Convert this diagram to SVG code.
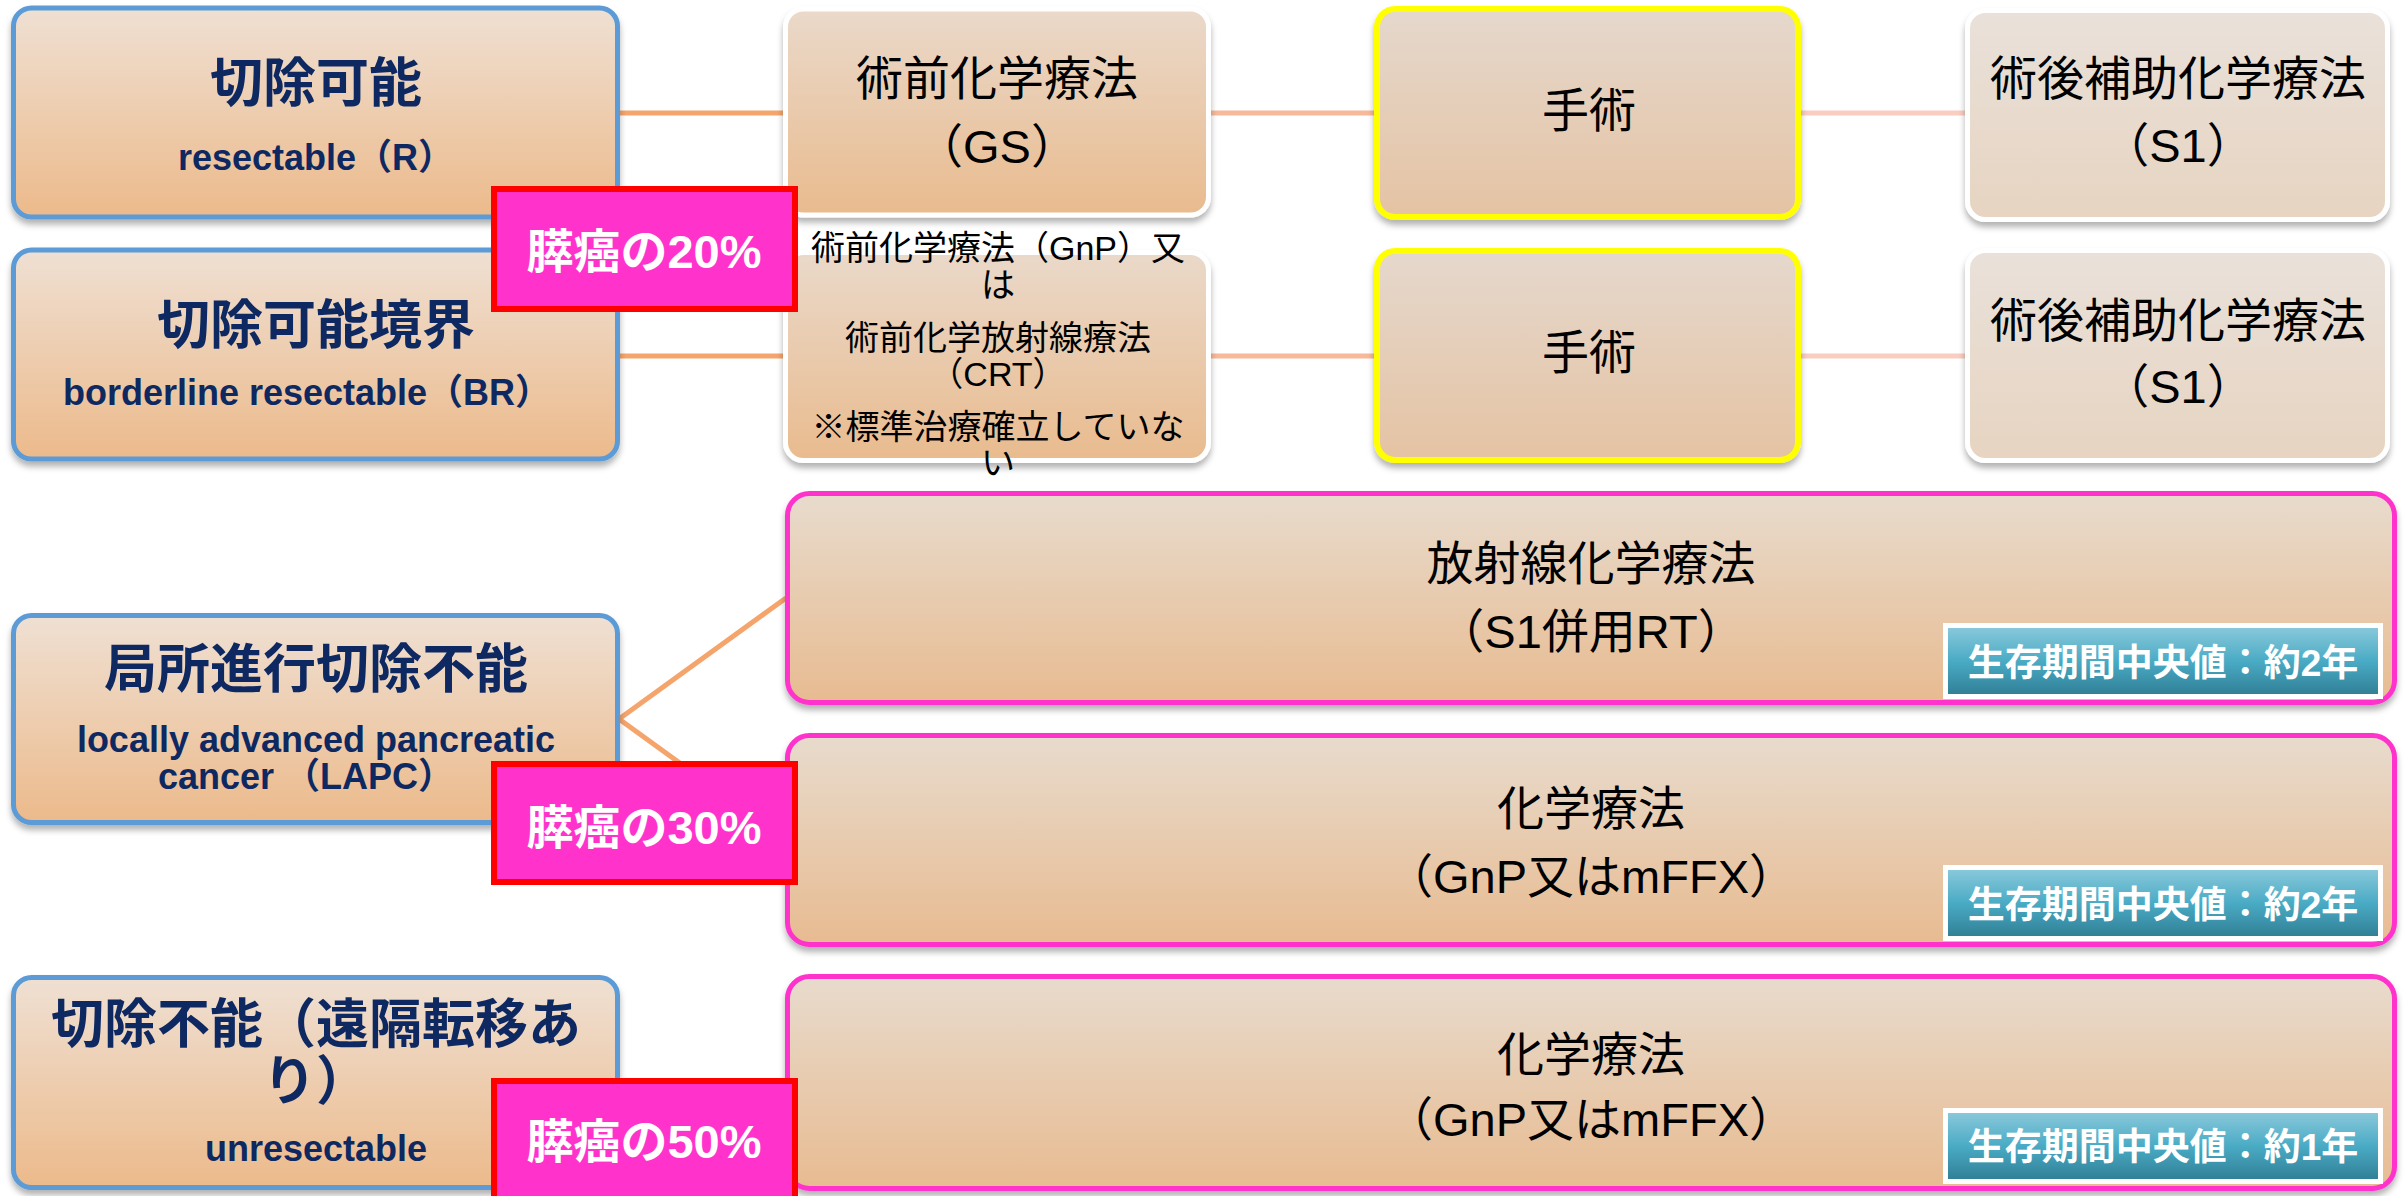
<svg xmlns="http://www.w3.org/2000/svg" width="2407" height="1196" viewBox="0 0 2407 1196">
<defs>
<linearGradient id="gL" x1="0" y1="0" x2="0" y2="1"><stop offset="0" stop-color="#EFE0D3"/><stop offset="1" stop-color="#ECBA8B"/></linearGradient>
<linearGradient id="gGS" x1="0" y1="0" x2="0" y2="1"><stop offset="0" stop-color="#EAD9CA"/><stop offset="1" stop-color="#E9BB8E"/></linearGradient>
<linearGradient id="gOp" x1="0" y1="0" x2="0" y2="1"><stop offset="0" stop-color="#E5D8CD"/><stop offset="1" stop-color="#E5C3A3"/></linearGradient>
<linearGradient id="gPost" x1="0" y1="0" x2="0" y2="1"><stop offset="0" stop-color="#E9E1DA"/><stop offset="1" stop-color="#E7D4C1"/></linearGradient>
<linearGradient id="gBig" x1="0" y1="0" x2="0" y2="1"><stop offset="0" stop-color="#E8DBCD"/><stop offset="1" stop-color="#E8BB91"/></linearGradient>
<linearGradient id="gTeal" x1="0" y1="0" x2="0" y2="1"><stop offset="0" stop-color="#8DCADC"/><stop offset="0.5" stop-color="#4AABC5"/><stop offset="1" stop-color="#2F7D93"/></linearGradient>
<filter id="sh" x="-5%" y="-10%" width="110%" height="130%"><feDropShadow dx="0" dy="5" stdDeviation="3" flood-color="#000" flood-opacity="0.3"/></filter>
</defs>
<style>
.bl{fill:url(#gL);stroke:#5B9BD5;stroke-width:5}
.wgs{fill:url(#gGS);stroke:#FFFFFF;stroke-width:5}
.yop{fill:url(#gOp);stroke:#FFFF00;stroke-width:6}
.wpost{fill:url(#gPost);stroke:#FFFFFF;stroke-width:5}
.big{fill:url(#gBig);stroke:#FF33CC;stroke-width:5}
.pct{fill:#FF33CC;stroke:#FF0000;stroke-width:6}
.teal{fill:url(#gTeal);stroke:#FFFFFF;stroke-width:5}
text{font-family:"Liberation Sans","Noto Sans CJK JP",sans-serif;text-anchor:middle;dominant-baseline:central}
.nt{fill:#0E2961;font-weight:bold;font-size:53px}
.ns{fill:#0E2961;font-weight:bold;font-size:36px}
.bk{fill:#000;font-size:47px}
.sm{fill:#000;font-size:34px}
.pw{fill:#FFF;font-weight:bold;font-size:47px}
.tw{fill:#FFF;font-weight:bold;font-size:37px}
.c1{stroke:#F5A56C;stroke-width:5;fill:none}
.c2{stroke:#F7B99A;stroke-width:5;fill:none}
.c3{stroke:#F9CDBF;stroke-width:5;fill:none}
</style>
<g id="connectors">
<line class="c1" x1="620" y1="113" x2="785" y2="113"/>
<line class="c2" x1="1210" y1="113" x2="1376" y2="113"/>
<line class="c3" x1="1800" y1="113" x2="1967" y2="113"/>
<line class="c1" x1="620" y1="356" x2="785" y2="356"/>
<line class="c2" x1="1210" y1="356" x2="1376" y2="356"/>
<line class="c3" x1="1800" y1="356" x2="1967" y2="356"/>
<polyline class="c1" points="786,598 619,719 786,840"/>
</g>
<g id="n-r" filter="url(#sh)"><rect class="bl" x="13.5" y="8" width="604" height="209" rx="18"/></g>
<g id="n-r-t"><text class="nt" x="316" y="83">切除可能</text><text class="ns" x="316" y="157">resectable（R）</text></g>
<g id="n-br" filter="url(#sh)"><rect class="bl" x="13.5" y="250" width="604" height="209" rx="18"/></g>
<g id="n-br-t"><text class="nt" x="316" y="325">切除可能境界</text><text class="ns" x="307" y="392">borderline resectable（BR）</text></g>
<g id="n-lapc" filter="url(#sh)"><rect class="bl" x="13.5" y="615.5" width="604" height="207" rx="18"/></g>
<g id="n-lapc-t"><text class="nt" x="316" y="669">局所進行切除不能</text><text class="ns" x="316" y="739">locally advanced pancreatic</text><text class="ns" x="306" y="776">cancer （LAPC）</text></g>
<g id="n-unres" filter="url(#sh)"><rect class="bl" x="13.5" y="977.5" width="604" height="210" rx="18"/></g>
<g id="n-unres-t"><text class="nt" x="316" y="1024">切除不能（遠隔転移あ</text><text class="nt" x="316" y="1081">り）</text><text class="ns" x="316" y="1148">unresectable</text></g>
<g id="n-gs" filter="url(#sh)"><rect class="wgs" x="785.5" y="9" width="423" height="206" rx="18"/></g>
<g id="n-gs-t"><text class="bk" x="997" y="78">術前化学療法</text><text class="bk" x="997" y="146">（GS）</text></g>
<g id="n-gnp" filter="url(#sh)"><rect class="wgs" x="785.5" y="252.5" width="423" height="208" rx="18"/></g>
<g id="n-gnp-t"><text class="sm" x="998" y="248">術前化学療法（GnP）又</text><text class="sm" x="998" y="285">は</text><text class="sm" x="998" y="338">術前化学放射線療法</text><text class="sm" x="998" y="374">（CRT）</text><text class="sm" x="998" y="427">※標準治療確立していな</text><text class="sm" x="998" y="463">い</text></g>
<g id="n-op1" filter="url(#sh)"><rect class="yop" x="1377" y="9" width="421" height="208" rx="18"/></g>
<g id="n-op2" filter="url(#sh)"><rect class="yop" x="1377" y="251" width="421" height="209" rx="18"/></g>
<g id="n-op-t"><text class="bk" x="1589" y="110">手術</text><text class="bk" x="1589" y="352">手術</text></g>
<g id="n-post1" filter="url(#sh)"><rect class="wpost" x="1967.5" y="10.5" width="420" height="209" rx="18"/></g>
<g id="n-post2" filter="url(#sh)"><rect class="wpost" x="1967.5" y="250.5" width="420" height="210" rx="18"/></g>
<g id="n-post-t"><text class="bk" x="2178" y="78">術後補助化学療法</text><text class="bk" x="2178" y="145">（S1）</text><text class="bk" x="2178" y="320">術後補助化学療法</text><text class="bk" x="2178" y="386">（S1）</text></g>
<g id="n-crt" filter="url(#sh)"><rect class="big" x="787.5" y="493.5" width="1607" height="209" rx="22"/></g>
<g id="n-crt-t"><text class="bk" x="1591" y="563">放射線化学療法</text><text class="bk" x="1591" y="631">（S1併用RT）</text></g>
<g id="n-chemo1" filter="url(#sh)"><rect class="big" x="787.5" y="735.5" width="1607" height="209" rx="22"/></g>
<g id="n-chemo1-t"><text class="bk" x="1591" y="808">化学療法</text><text class="bk" x="1591" y="876">（GnP又はmFFX）</text></g>
<g id="n-chemo2" filter="url(#sh)"><rect class="big" x="787.5" y="976.5" width="1607" height="212" rx="22"/></g>
<g id="n-chemo2-t"><text class="bk" x="1591" y="1054">化学療法</text><text class="bk" x="1591" y="1119">（GnP又はmFFX）</text></g>
<g id="n-os1"><rect class="teal" x="1945.5" y="625.5" width="435" height="71"/><text class="tw" x="2163" y="663">生存期間中央値：約2年</text></g>
<g id="n-os2"><rect class="teal" x="1945.5" y="867.5" width="435" height="71"/><text class="tw" x="2163" y="905">生存期間中央値：約2年</text></g>
<g id="n-os3"><rect class="teal" x="1945.5" y="1110.5" width="435" height="71"/><text class="tw" x="2163" y="1147">生存期間中央値：約1年</text></g>
<g id="n-p20"><rect class="pct" x="494" y="189" width="301" height="120"/><text class="pw" x="644" y="251">膵癌の20%</text></g>
<g id="n-p30"><rect class="pct" x="494" y="764" width="301" height="118"/><text class="pw" x="644" y="827">膵癌の30%</text></g>
<g id="n-p50"><rect class="pct" x="494" y="1081" width="301" height="130"/><text class="pw" x="644" y="1141">膵癌の50%</text></g>
</svg>
